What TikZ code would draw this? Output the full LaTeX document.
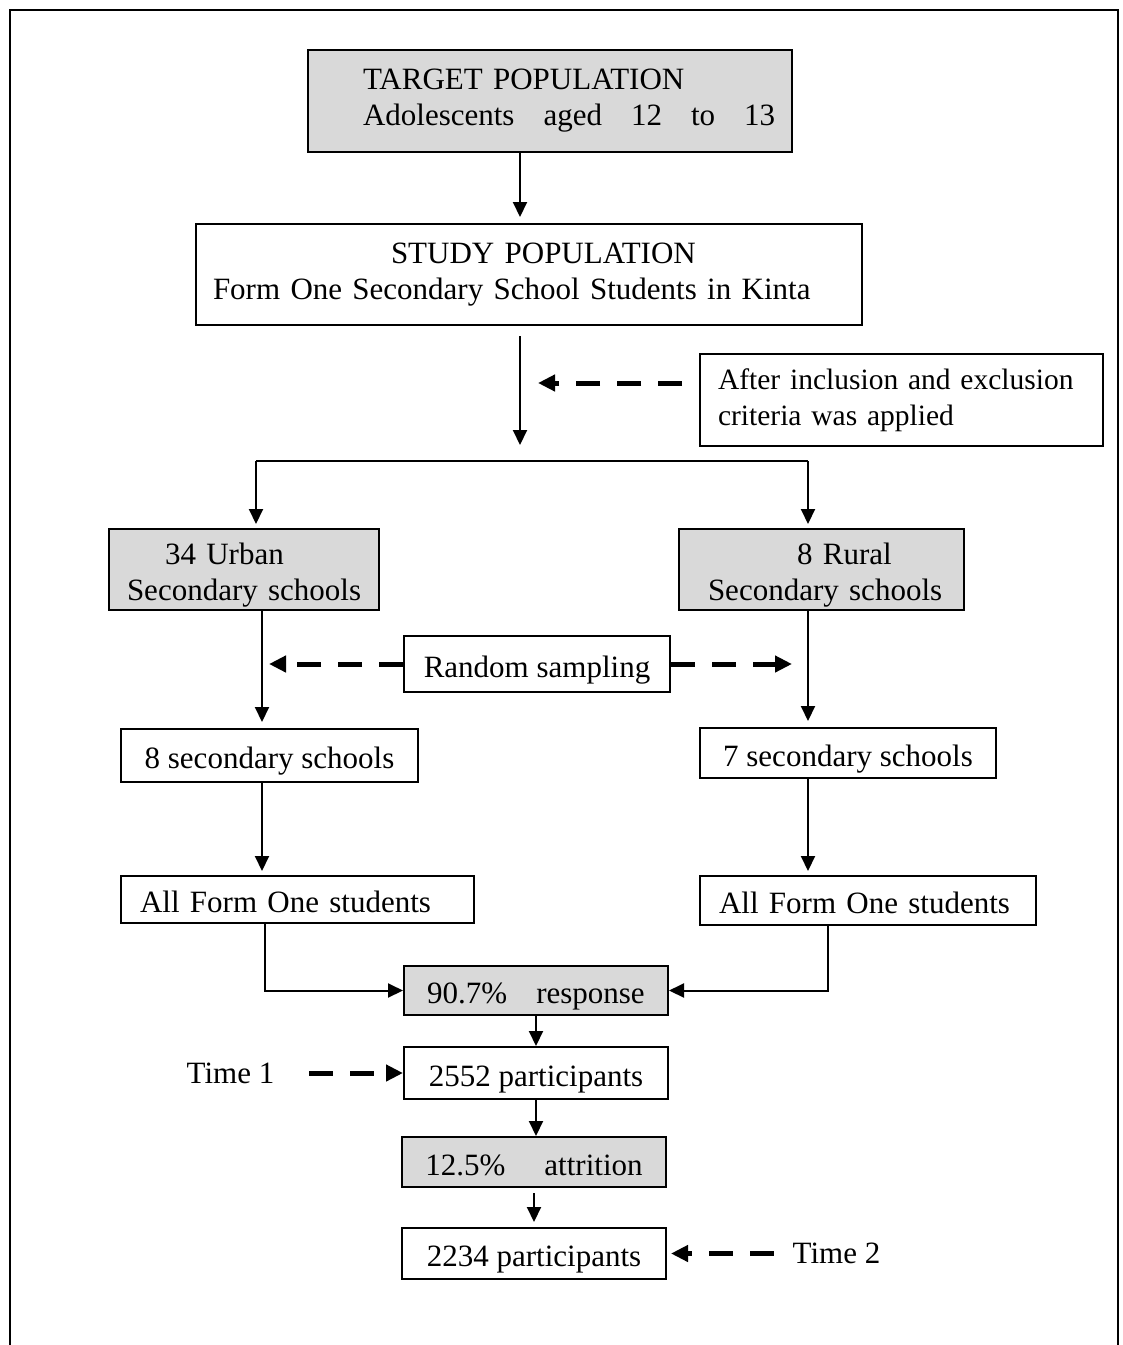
\documentclass[tikz,border=0pt]{standalone}
\usepackage{fontspec}
\setmainfont{Liberation Serif}
\usepackage{xcolor}
\usepackage{tikz}
\usetikzlibrary{
    arrows.meta,
    positioning,
    calc
}
\definecolor{boxgray}{RGB}{217,217,217}
\newcommand{\flowfont}{\fontsize{31}{36}\selectfont}
\newcommand{\lpad}[1]{\hspace*{#1pt}}
\newcommand{\wgap}{\hspace{29pt}}
\newcommand{\toprule}{\rule{0pt}{32pt}}
\tikzset{
    whitebox/.style={
        rectangle,
        draw=black,
        line width=2pt,
        fill=white,
        inner xsep=4pt,
        inner ysep=0pt,
        font=\flowfont
    },
    graybox/.style={
        whitebox,
        fill=boxgray
    },
    onerow/.style={
        text height=26pt,
        text depth=0pt
    },
    sidetext/.style={
        inner sep=0pt,
        font=\flowfont
    },
    arrow/.style={
        -{Triangle[length=15pt, width=14pt]},
        line width=2pt
    },
    dasharrow/.style={
        -{Triangle[length=17pt, width=16pt]},
        line width=5pt,
        dash pattern=on 24pt off 17pt
    }
}

\begin{document}
\begin{tikzpicture}[x=1pt, y=-1pt]
\useasboundingbox (0,0) rectangle (1123,1345);
% frame, open at the bottom
\draw[line width=1.5pt] (10,1345) -- (10,10) -- (1118,10) -- (1118,1345);

\node[graybox, text width=476pt, minimum height=102pt, align=left] (target) at (550,101)
    {\lpad{51}TARGET POPULATION\\\lpad{51}Adolescents\wgap aged\wgap 12\wgap to\wgap 13};
\node[whitebox, text width=658pt, minimum height=101pt, align=left] (study) at (529,274.5)
    {\lpad{191}STUDY POPULATION\\\lpad{13}Form One Secondary School Students in Kinta};
\node[whitebox, text width=395pt, minimum height=92pt, align=left,
      font=\fontsize{29.5}{36}\selectfont] (note) at (901.5,400)
    {\lpad{14}After inclusion and exclusion\\\lpad{14}criteria was applied};

\node[graybox, text width=262pt, minimum height=81pt, align=left] (urban) at (244,569.5)
    {\toprule\lpad{52}34 Urban\\\lpad{14}Secondary schools};
\node[graybox, text width=277pt, minimum height=81pt, align=left] (rural) at (821.5,569.5)
    {\toprule\lpad{114}8 Rural\\\lpad{25}Secondary schools};
\node[whitebox, onerow, minimum width=266pt, minimum height=56pt] (sampling) at (537,664) {Random sampling};

\node[whitebox, onerow, minimum width=297pt, minimum height=53pt] (urbansel) at (269.5,755.5) {8 secondary schools};
\node[whitebox, onerow, minimum width=296pt, minimum height=50pt] (ruralsel) at (848,753) {7 secondary schools};
\node[whitebox, onerow, text width=345pt, minimum height=47pt, align=left] (urbanall) at (297.5,899.5)
    {\lpad{15}All Form One students};
\node[whitebox, onerow, text width=328pt, minimum height=49pt, align=left] (ruralall) at (868,900.5)
    {\lpad{15}All Form One students};

\node[graybox, onerow, minimum width=264pt, minimum height=49pt] (response) at (536,990.5) {90.7\%\hspace{29pt}response};
\node[whitebox, onerow, minimum width=264pt, minimum height=52pt] (timeone) at (536,1073) {2552 participants};
\node[graybox, onerow, minimum width=264pt, minimum height=50pt] (attrition) at (534,1162) {12.5\%\hspace{39pt}attrition};
\node[whitebox, onerow, minimum width=264pt, minimum height=51pt] (timetwo) at (534,1253.5) {2234 participants};
\node[sidetext] (tone) at (230.5,1073) {Time 1};
\node[sidetext] (ttwo) at (836.5,1253.5) {Time 2};

% main spine
\coordinate (spine) at (520,0);
\coordinate (split) at (520,461);
\coordinate (lsplit) at (256,461);
\coordinate (rsplit) at (808,461);
\draw[arrow, shorten >=6pt] (target.south -| spine) -- (study.north -| spine);
\draw[arrow, shorten <=10pt, shorten >=16pt] (study.south -| spine) -- (split);
\draw[line width=2pt] (lsplit) -- (rsplit);
\draw[arrow, shorten >=4pt] (lsplit) -- (lsplit |- urban.north);
\draw[arrow, shorten >=4pt] (rsplit) -- (rsplit |- rural.north);

\coordinate (criteria) at (538,383);
\draw[dasharrow] ([xshift=-17pt, yshift=17pt]note.west) -- (criteria);

% sampling
\coordinate (lpick) at (269,664);
\coordinate (rpick) at (792,664);
\draw[dasharrow] (sampling.west) -- (lpick);
\draw[dasharrow] (sampling.east) -- (rpick);

\coordinate (lcol) at (262,0);
\coordinate (rcol) at (808,0);
\draw[arrow, shorten >=6pt] (urban.south -| lcol) -- (urbansel.north -| lcol);
\draw[arrow, shorten >=6pt] (rural.south -| rcol) -- (ruralsel.north -| rcol);
\draw[arrow, shorten >=4pt] (urbansel.south -| lcol) -- (urbanall.north -| lcol);
\draw[arrow, shorten >=4pt] (ruralsel.south -| rcol) -- (ruralall.north -| rcol);

% merge and follow-up
\draw[arrow] ([xshift=-32.5pt]urbanall.south) |- (response.west);
\draw[arrow] ([xshift=-40pt]ruralall.south) |- (response.east);
\draw[arrow] (response.south) -- (timeone.north);
\draw[arrow] (timeone.south) -- (timeone.south |- attrition.north);
\draw[arrow, shorten <=5pt, shorten >=5pt] (attrition.south) -- (timetwo.north);
\draw[dasharrow, shorten <=35pt] (tone.east) -- (timeone.west);
\draw[dasharrow, shorten <=19pt, shorten >=4pt] (ttwo.west) -- (ttwo.west -| timetwo.east);
\end{tikzpicture}
\end{document}
